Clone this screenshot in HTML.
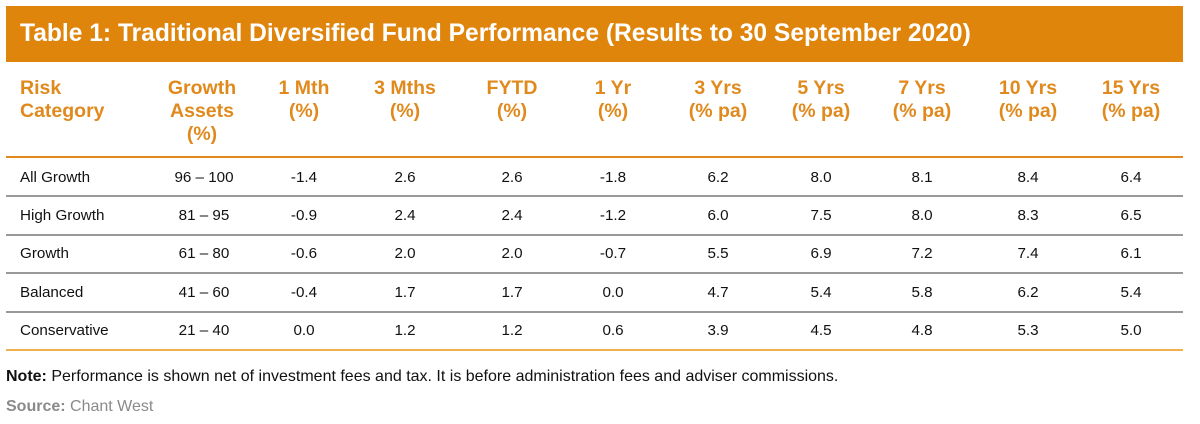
<!DOCTYPE html>
<html><head><meta charset="utf-8"><style>
body{margin:0;width:1200px;height:424px;background:#fff;position:relative;overflow:hidden;font-family:"Liberation Sans",Arial,sans-serif;}
.banner{position:absolute;left:6px;top:6px;width:1177px;height:56px;background:#e0850c;}
.title{position:absolute;left:14px;top:0;line-height:56px;color:#fff;font-weight:bold;font-size:24.6px;white-space:nowrap;}
.h{position:absolute;color:#e08a1e;font-weight:bold;font-size:19.5px;line-height:23px;top:77px;white-space:nowrap;}
.c{text-align:center;transform:translateX(-50%);}
.line{position:absolute;left:6px;width:1177px;}
.cell{position:absolute;font-size:15.2px;color:#111;line-height:20px;white-space:nowrap;}
.note{position:absolute;left:6px;top:368px;font-size:16px;color:#111;}
.src{position:absolute;left:6px;top:398px;font-size:16px;color:#8a8a8a;}
</style></head><body>
<div class="banner"><div class="title">Table 1: Traditional Diversified Fund Performance (Results to 30 September 2020)</div></div>
<div class="h" style="left:20px">Risk<br>Category</div>
<div class="h c" style="left:202px">Growth<br>Assets<br>(%)</div>
<div class="h c" style="left:304px">1 Mth<br>(%)</div>
<div class="h c" style="left:405px">3 Mths<br>(%)</div>
<div class="h c" style="left:512px">FYTD<br>(%)</div>
<div class="h c" style="left:613px">1 Yr<br>(%)</div>
<div class="h c" style="left:718px">3 Yrs<br>(% pa)</div>
<div class="h c" style="left:821px">5 Yrs<br>(% pa)</div>
<div class="h c" style="left:922px">7 Yrs<br>(% pa)</div>
<div class="h c" style="left:1028px">10 Yrs<br>(% pa)</div>
<div class="h c" style="left:1131px">15 Yrs<br>(% pa)</div>
<div class="line" style="top:156px;height:2px;background:#e08a1e"></div>
<div class="line" style="top:195px;height:2px;background:#999"></div>
<div class="line" style="top:234px;height:2px;background:#999"></div>
<div class="line" style="top:272px;height:2px;background:#999"></div>
<div class="line" style="top:311px;height:2px;background:#999"></div>
<div class="line" style="top:349px;height:2px;background:#f0b050"></div>
<div id="rows"></div>
<div class="note"><b>Note:</b> Performance is shown net of investment fees and tax. It is before administration fees and adviser commissions.</div>
<div class="src"><b>Source:</b> Chant West</div>
<script>
var rows=[["All Growth","96 – 100","-1.4","2.6","2.6","-1.8","6.2","8.0","8.1","8.4","6.4"],
["High Growth","81 – 95","-0.9","2.4","2.4","-1.2","6.0","7.5","8.0","8.3","6.5"],
["Growth","61 – 80","-0.6","2.0","2.0","-0.7","5.5","6.9","7.2","7.4","6.1"],
["Balanced","41 – 60","-0.4","1.7","1.7","0.0","4.7","5.4","5.8","6.2","5.4"],
["Conservative","21 – 40","0.0","1.2","1.2","0.6","3.9","4.5","4.8","5.3","5.0"]];
var xs=[20,204,304,405,512,613,718,821,922,1028,1131],ys=[178,216,254,293,331],h="";
rows.forEach(function(r,i){r.forEach(function(v,j){h+='<div class="cell'+(j?' c':'')+'" style="left:'+xs[j]+'px;top:'+(ys[i]-10)+'px">'+v+'</div>';});});
document.getElementById("rows").innerHTML=h;
</script>
</body></html>
